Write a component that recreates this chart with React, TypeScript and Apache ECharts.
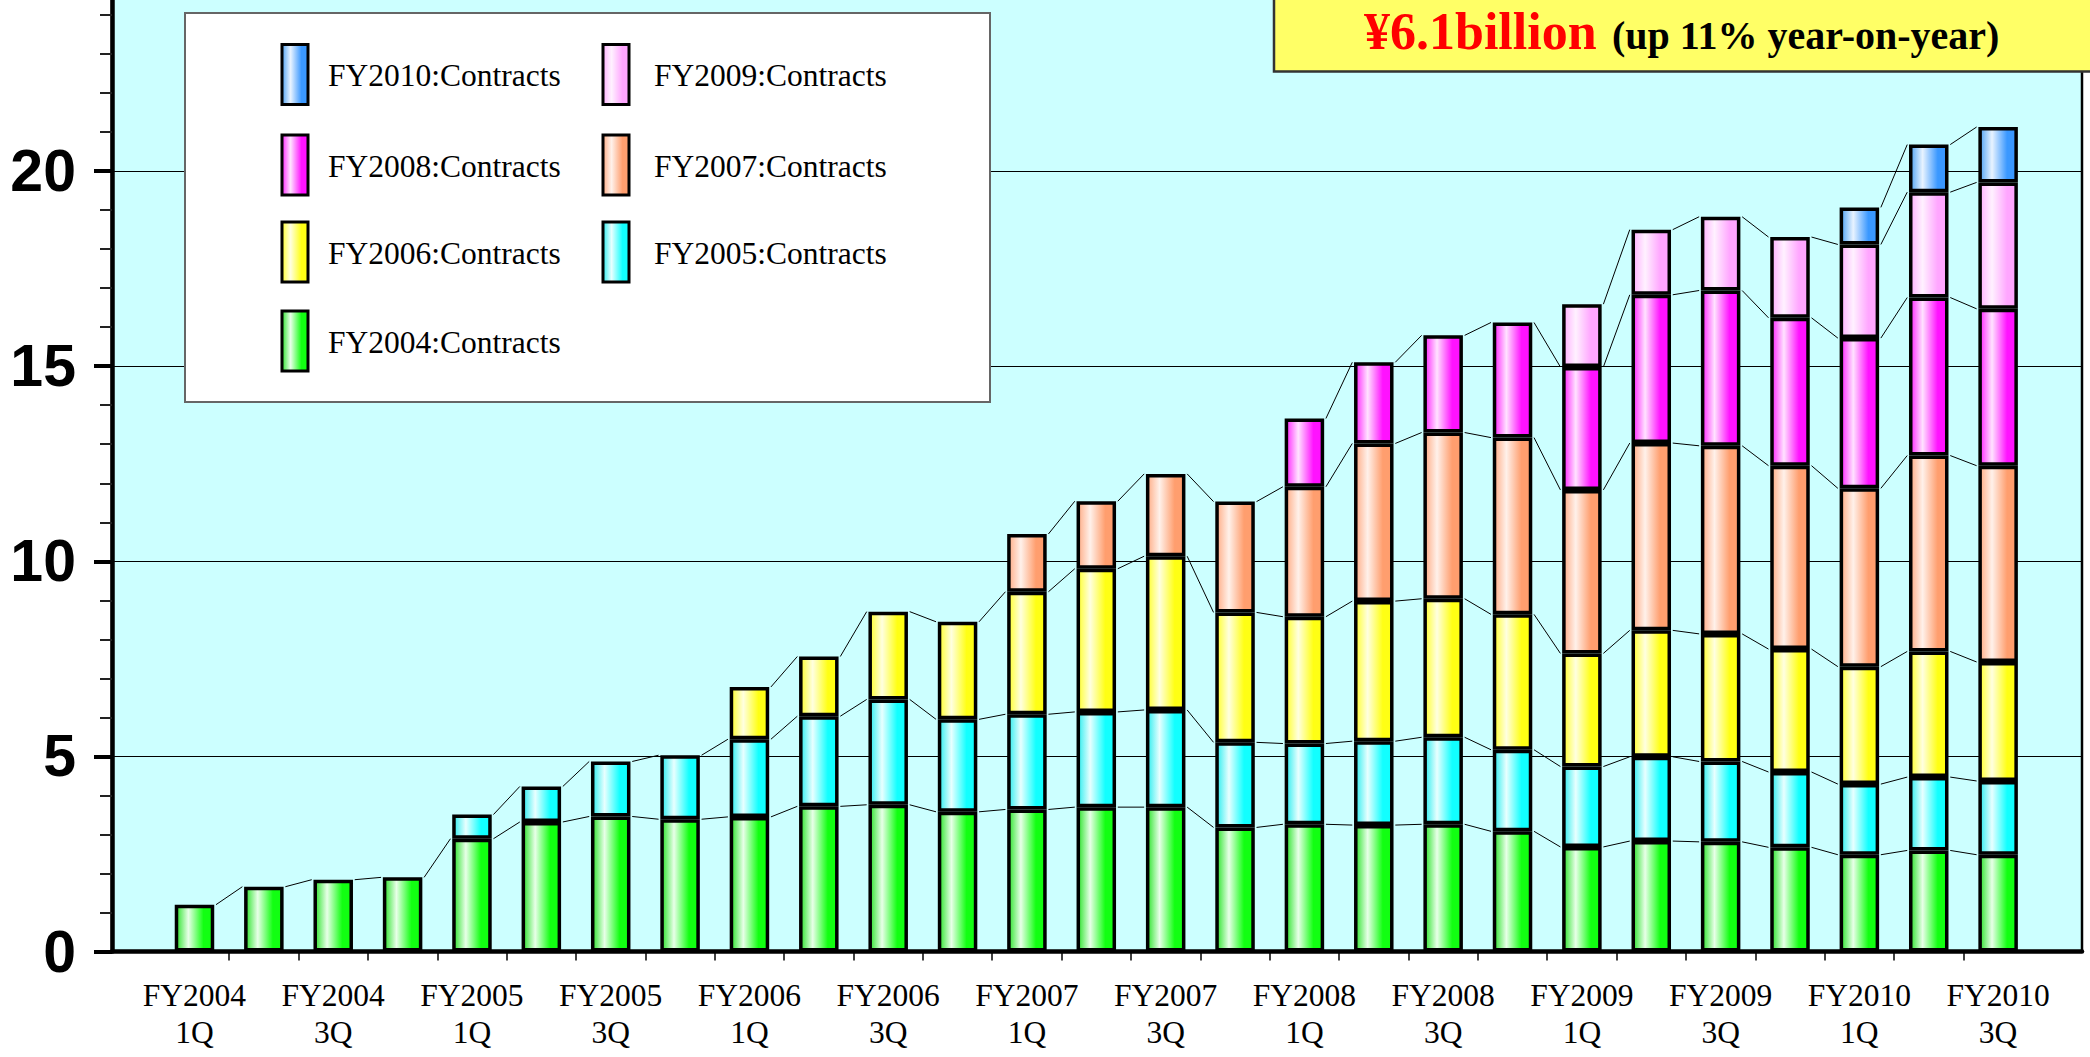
import React, { useEffect, useRef } from "react";
import * as echarts from "echarts";

// Quarterly contract backlog (¥ billion), stacked by the fiscal year the contracts were won in
const categories = [
  "FY2004\n1Q", "FY2004\n2Q", "FY2004\n3Q", "FY2004\n4Q",
  "FY2005\n1Q", "FY2005\n2Q", "FY2005\n3Q", "FY2005\n4Q",
  "FY2006\n1Q", "FY2006\n2Q", "FY2006\n3Q", "FY2006\n4Q",
  "FY2007\n1Q", "FY2007\n2Q", "FY2007\n3Q", "FY2007\n4Q",
  "FY2008\n1Q", "FY2008\n2Q", "FY2008\n3Q", "FY2008\n4Q",
  "FY2009\n1Q", "FY2009\n2Q", "FY2009\n3Q", "FY2009\n4Q",
  "FY2010\n1Q", "FY2010\n2Q", "FY2010\n3Q",
];

const _ = null;
const fy2004 = [1.20, 1.66, 1.84, 1.90, 2.89, 3.32, 3.46, 3.39, 3.45, 3.72, 3.76, 3.58, 3.64, 3.70, 3.70, 3.18, 3.26, 3.24, 3.26, 3.08, 2.68, 2.83, 2.81, 2.67, 2.48, 2.59, 2.48];
const fy2005 = [_, _, _, _, 0.62, 0.91, 1.41, 1.64, 1.99, 2.31, 2.70, 2.37, 2.44, 2.44, 2.49, 2.18, 2.07, 2.15, 2.23, 2.09, 2.06, 2.16, 2.06, 1.93, 1.81, 1.88, 1.89];
const fy2006 = [_, _, _, _, _, _, _, _, 1.34, 1.53, 2.25, 2.50, 3.14, 3.67, 3.94, 3.33, 3.25, 3.59, 3.55, 3.47, 2.90, 3.24, 3.27, 3.15, 3.01, 3.22, 3.05];
const fy2007 = [_, _, _, _, _, _, _, _, _, _, _, _, 1.48, 1.73, 2.11, 2.84, 3.33, 4.04, 4.26, 4.53, 4.19, 4.80, 4.82, 4.70, 4.57, 5.02, 5.03];
const fy2008 = [_, _, _, _, _, _, _, _, _, _, _, _, _, _, _, _, 1.75, 2.08, 2.49, 2.95, 3.15, 3.80, 3.98, 3.79, 3.85, 4.05, 4.02];
const fy2009 = [_, _, _, _, _, _, _, _, _, _, _, _, _, _, _, _, _, _, _, _, 1.61, 1.67, 1.89, 2.07, 2.40, 2.70, 3.24];
const fy2010 = [_, _, _, _, _, _, _, _, _, _, _, _, _, _, _, _, _, _, _, _, _, _, _, _, 0.95, 1.22, 1.42];

const seriesValues = [fy2004, fy2005, fy2006, fy2007, fy2008, fy2009, fy2010];
const seriesNames = [
  "FY2004:Contracts", "FY2005:Contracts", "FY2006:Contracts", "FY2007:Contracts",
  "FY2008:Contracts", "FY2009:Contracts", "FY2010:Contracts",
];

// [left edge, highlight, saturated] for each series' cylinder-like shading
const shades = [
  ["#2ee52e", "#e8ffe8", "#12ff12"],
  ["#30eef0", "#e8ffff", "#12ffff"],
  ["#ffff30", "#ffffe0", "#ffff14"],
  ["#ffae88", "#fff1ea", "#ff9e6e"],
  ["#ff28ff", "#ffe2ff", "#ff12ff"],
  ["#ffb2ff", "#fff1ff", "#ffa6ff"],
  ["#52a4f4", "#e8f3ff", "#3a98ff"],
];

const yTickLabels = ["0", "5", "10", "15", "20"];

// Two-column legend, row-major
const legendColumns = [
  ["FY2010:Contracts", "FY2008:Contracts", "FY2006:Contracts", "FY2004:Contracts"],
  ["FY2009:Contracts", "FY2007:Contracts", "FY2005:Contracts"],
];

const headline = "¥6.1billion";
const headlineNote = "(up 11% year-on-year)";

const W = 2090;
const H = 1057;
// the plot runs a little above the visible page, so the chart canvas is lifted by this much
const LIFT = 24;

function shade(k: number) {
  const [edge, hl, sat] = shades[k];
  return new echarts.graphic.LinearGradient(0, 0, 1, 0, [
    { offset: 0, color: edge },
    { offset: 0.33, color: hl },
    { offset: 0.75, color: sat },
    { offset: 1, color: sat },
  ]);
}

export default function App() {
  const ref = useRef<HTMLDivElement>(null);

  useEffect(() => {
    document.body.style.margin = "0";
    document.body.style.overflow = "hidden";
    const chart = echarts.init(ref.current!, null, { renderer: "svg" });

    const plotTop = 0;
    const plotBottom = 105.5;
    const barLeft = 159.8;
    const barRight = 57.2;
    const band = (W - barLeft - barRight) / categories.length;
    const barWidth = 39.5;
    const barBorder = 3.5;

    // cumulative tops of every segment, used for the joining lines
    const cum: (number | null)[][] = seriesValues.map(() => []);
    for (let i = 0; i < categories.length; i++) {
      let acc = 0;
      seriesValues.forEach((vals, k) => {
        const v = vals[i];
        if (v == null) {
          cum[k][i] = null;
        } else {
          acc += v;
          cum[k][i] = acc;
        }
      });
    }
    const joins: number[][] = [];
    cum.forEach((tops) => {
      for (let i = 0; i < tops.length - 1; i++) {
        const a = tops[i];
        const b = tops[i + 1];
        if (a != null && b != null) joins.push([i, a, i + 1, b]);
      }
    });

    const serif = '"Liberation Serif", "Times New Roman", serif';
    const half = (barWidth + barBorder) / 2;

    const legendGraphics: any[] = [];
    const colX = [282, 603];
    const textX = [328, 654];
    const rowY = [74.5, 165, 252, 341];
    legendColumns.forEach((col, c) => {
      col.forEach((name, r) => {
        const k = seriesNames.indexOf(name);
        legendGraphics.push({
          type: "rect",
          z: 101,
          shape: { x: colX[c], y: LIFT + rowY[r] - 30, width: 26, height: 60 },
          style: { fill: shade(k), stroke: "#000", lineWidth: 3 },
        });
        legendGraphics.push({
          type: "text",
          z: 101,
          x: textX[c],
          y: LIFT + rowY[r] + 1,
          style: {
            text: name,
            font: `31.5px ${serif}`,
            fill: "#000",
            textAlign: "left",
            align: "left",
            textVerticalAlign: "middle",
            verticalAlign: "middle",
          },
        });
      });
    });

    const option: any = {
      animation: false,
      backgroundColor: "#ffffff",
      grid: [
        {
          left: 112, right: 8, top: plotTop, bottom: plotBottom,
          show: true, backgroundColor: "#ccffff", borderColor: "#000", borderWidth: 2.5,
        },
        { left: barLeft, right: barRight, top: plotTop, bottom: plotBottom },
        { left: barLeft + band, right: barRight + band, top: plotTop, bottom: plotBottom },
      ],
      xAxis: [
        {
          gridIndex: 0, type: "value", min: 0, max: 1,
          axisLine: { show: true, onZero: false, lineStyle: { color: "#000", width: 4.5 } },
          axisTick: { show: false }, axisLabel: { show: false }, splitLine: { show: false },
        },
        {
          gridIndex: 1, type: "category", data: categories,
          axisLine: { show: false }, axisTick: { show: false }, splitLine: { show: false },
          axisLabel: {
            interval: 1, margin: 25, color: "#000",
            fontFamily: serif, fontSize: 31.5, lineHeight: 37,
          },
        },
        {
          gridIndex: 2, type: "value", min: 1, max: categories.length - 1, interval: 1,
          axisLine: { show: false }, axisLabel: { show: false }, splitLine: { show: false },
          axisTick: { show: true, length: 9, lineStyle: { color: "#000", width: 1.5 } },
        },
      ],
      yAxis: [
        {
          gridIndex: 0, type: "value", min: 0, max: 25, interval: 5,
          axisLine: { show: true, lineStyle: { color: "#000", width: 4.5 } },
          axisTick: { show: true, length: 18, lineStyle: { color: "#000", width: 4 } },
          minorTick: { show: true, splitNumber: 5, length: 12, lineStyle: { color: "#222", width: 2 } },
          splitLine: { show: true, lineStyle: { color: "#000", width: 1 } },
          axisLabel: {
            showMaxLabel: false, margin: 36, color: "#000",
            fontFamily: '"Liberation Sans", Arial, sans-serif', fontWeight: "bold", fontSize: 59,
            formatter: (v: number) => yTickLabels[Math.round(v / 5)] ?? "",
          },
        },
        { gridIndex: 1, type: "value", min: 0, max: 25, show: false },
        { gridIndex: 2, type: "value", min: 0, max: 1, show: false },
      ],
      series: [
        ...seriesValues.map((vals, k) => ({
          type: "bar",
          name: seriesNames[k],
          stack: "contracts",
          xAxisIndex: 1,
          yAxisIndex: 1,
          barWidth,
          data: vals,
          itemStyle: { color: shade(k), borderColor: "#000", borderWidth: barBorder },
          emphasis: { disabled: true },
        })),
        {
          type: "custom",
          name: "joins",
          xAxisIndex: 1,
          yAxisIndex: 1,
          silent: true,
          z: 1,
          encode: { x: [0, 2], y: [1, 3] },
          data: joins,
          renderItem: (_p: any, api: any) => {
            const a = api.coord([api.value(0), api.value(1)]);
            const b = api.coord([api.value(2), api.value(3)]);
            return {
              type: "line",
              shape: { x1: a[0] + half, y1: a[1], x2: b[0] - half, y2: b[1] },
              style: { stroke: "#000", lineWidth: 1 },
            };
          },
        },
      ],
      graphic: [
        {
          type: "rect",
          z: 100,
          shape: { x: 185, y: LIFT + 13, width: 805, height: 389 },
          style: { fill: "#ffffff", stroke: "#666", lineWidth: 2 },
        },
        ...legendGraphics,
        {
          type: "rect",
          z: 100,
          shape: { x: 1274, y: LIFT - 10, width: 900, height: 81.5 },
          style: { fill: "#ffff66", stroke: "#333", lineWidth: 2.5 },
        },
        {
          type: "text",
          z: 101,
          x: 1364,
          y: LIFT + 31.5,
          style: {
            text: headline,
            font: `bold 52px ${serif}`,
            fill: "#ff0000",
            textAlign: "left", align: "left",
            textVerticalAlign: "middle", verticalAlign: "middle",
          },
        },
        {
          type: "text",
          z: 101,
          x: 1612,
          y: LIFT + 35.5,
          style: {
            text: headlineNote,
            font: `bold 40px ${serif}`,
            fill: "#000",
            textAlign: "left", align: "left",
            textVerticalAlign: "middle", verticalAlign: "middle",
          },
        },
      ],
    };

    chart.setOption(option);
    return () => chart.dispose();
  }, []);

  return (
    <div style={{ position: "relative", width: W, height: H, overflow: "hidden" }}>
      <div ref={ref} style={{ position: "absolute", left: 0, top: -LIFT, width: W, height: H + LIFT }} />
    </div>
  );
}
